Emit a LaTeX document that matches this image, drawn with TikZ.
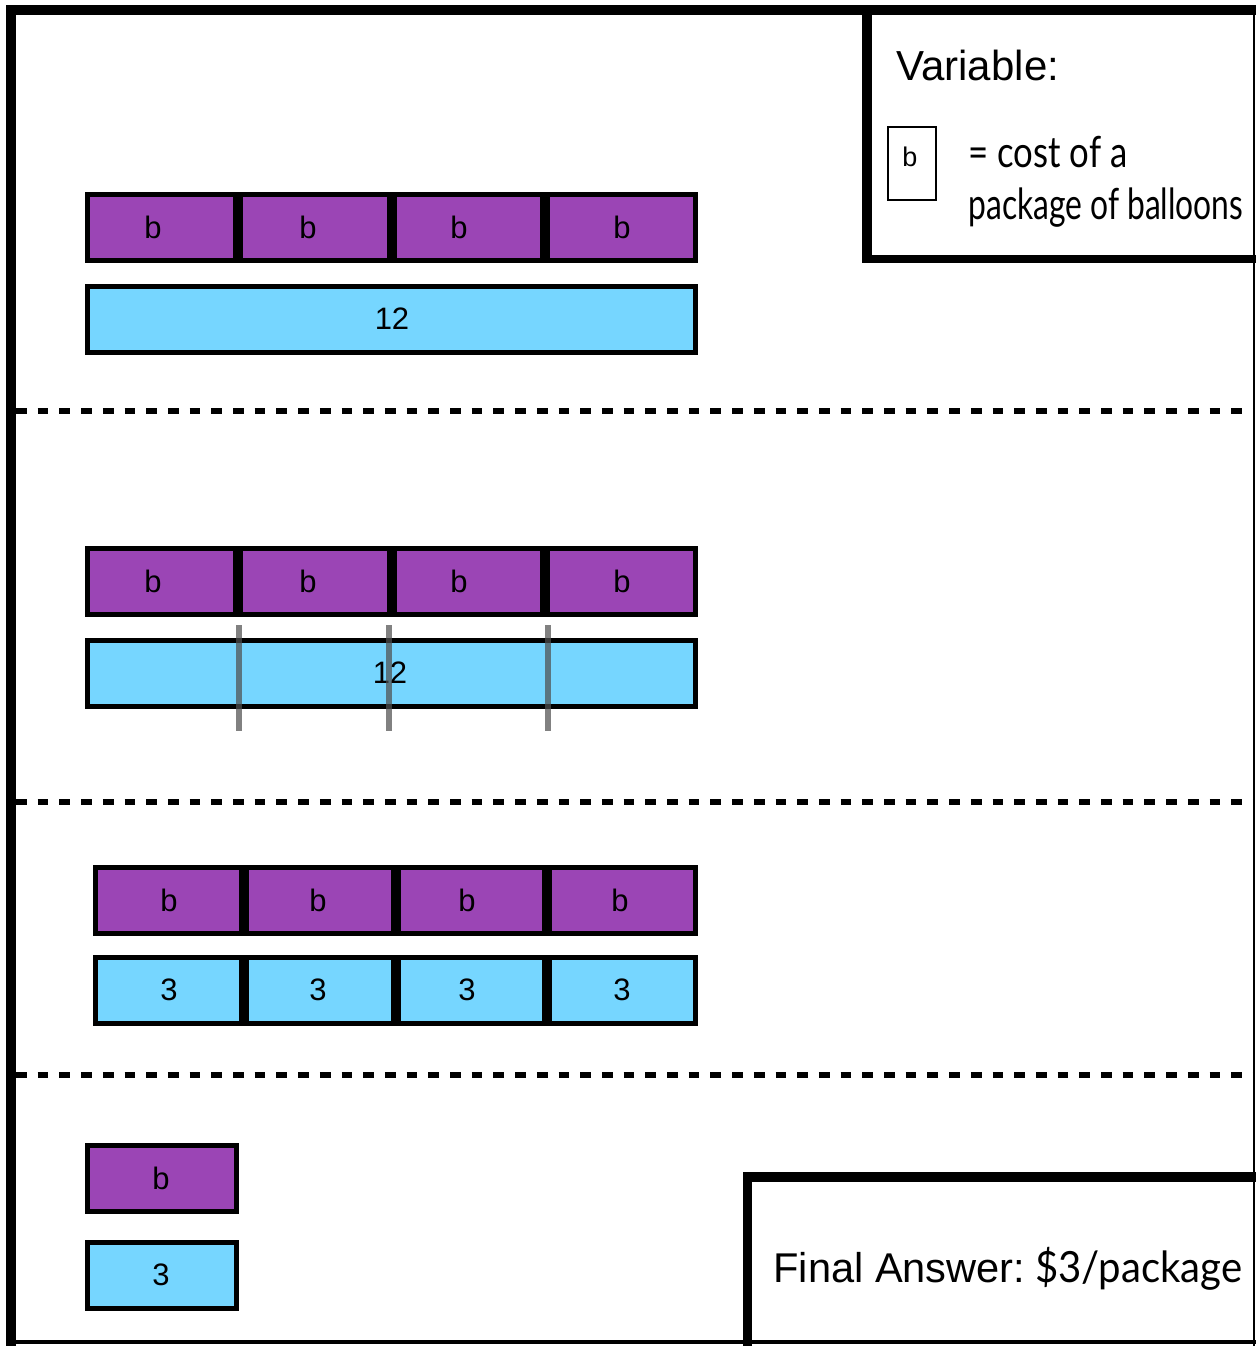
\documentclass[tikz,border=0pt]{standalone}
\usepackage{fontspec}
\usepackage{graphicx}
\setmainfont{Liberation Sans}
\newfontfamily\hand{Lato}
\definecolor{barpurple}{RGB}{155,69,181}
\definecolor{barblue}{RGB}{118,214,255}
\definecolor{tickgray}{RGB}{80,80,80}
\begin{document}
\begin{tikzpicture}[x=0.5pt, y=-0.5pt,
  bar/.style={draw=black, line width=2.5pt, minimum width=#1, minimum height=33pt,
              inner sep=0pt, outer sep=0pt},
  pbar/.style={bar=#1, fill=barpurple},
  bbar/.style={bar=#1, fill=barblue},
  num/.style={font=\fontsize{15.5pt}{18pt}\selectfont, inner sep=0pt},
  frame/.style={line width=5pt},
  divider/.style={line width=2.6pt, dash pattern=on 5.35pt off 5.5pt},
  cut/.style={draw=tickgray, opacity=0.72, line width=2.8pt},
  handtext/.style={anchor=base west, inner sep=0pt, font=\fontsize{21.5pt}{24pt}\hand},
]
\useasboundingbox (0,0) rectangle (1256,1346);

% outer frame
\draw[frame] (11,1346) -- (11,10) -- (1256,10);
\draw[line width=2pt] (6,1342) -- (1256,1342);
\draw[line width=1pt] (1253.5,5) -- (1253.5,1346);

% variable box
\draw[line width=5pt] (867,5) -- (867,259);
\draw[line width=4pt] (862,259) -- (1256,259);
\node[anchor=base west, inner sep=0pt, font=\fontsize{21pt}{25pt}\selectfont] (vartitle) at (896,80) {Variable:};
\node[draw, line width=0.9pt, minimum width=24pt, minimum height=36.5pt, inner sep=0pt] (keybox) at (912,163.5) {};
\node[inner sep=0pt, font=\fontsize{13.5pt}{16pt}\selectfont] (keyb) at (910,157) {b};
\node[handtext] (def1) at (968,167) {\resizebox{79.5pt}{\height}{= cost of a}};
\node[handtext] (def2) at (968,219) {\resizebox{137.5pt}{\height}{package of balloons}};

% section dividers
\draw[divider] (16,411) -- (1253,411);
\draw[divider] (16,802) -- (1253,802);
\draw[divider] (16,1075) -- (1253,1075);

% section 1: four b's make 12
\foreach \i/\x/\lx in {1/161.6/153, 2/314.9/308, 3/468.1/459, 4/621.4/622} {
  \node[pbar=74.1pt] (a\i) at (\x,227.5) {};
  \node[num] (al\i) at (\lx,227.5) {b};
}
\node[bbar=304pt] (atotal) at (391.5,319) {};
\node[num] (atotall) at (392,319) {12};

% section 2: the 12 bar cut into four
\foreach \i/\x/\lx in {1/161.6/153, 2/314.9/308, 3/468.1/459, 4/621.4/622} {
  \node[pbar=74.1pt] (b\i) at (\x,581.5) {};
  \node[num] (bl\i) at (\lx,581.5) {b};
}
\node[bbar=304pt] (btotal) at (391.5,673) {};
\node[num] (btotall) at (390,673) {12};
\foreach \x in {239,389,548}
  \draw[cut] (\x,625) -- (\x,731);

% section 3: each b is 3
\foreach \i/\x/\lx/\mx in {1/168.6/169/169, 2/319.9/318/318, 3/471.1/467/467, 4/622.4/620/622} {
  \node[pbar=73.1pt] (c\i) at (\x,900) {};
  \node[num] (cl\i) at (\lx,900) {b};
  \node[bbar=73.1pt] (d\i) at (\x,990) {};
  \node[num] (dl\i) at (\mx,990) {3};
}

% section 4: one b is 3
\node[pbar=74.5pt] (e1) at (162,1178) {};
\node[num] (el1) at (161,1178) {b};
\node[bbar=74.5pt] (f1) at (162,1275) {};
\node[num] (fl1) at (161,1275) {3};

% answer box
\draw[line width=4.5pt] (747.5,1346) -- (747.5,1177);
\draw[line width=5pt] (743,1177) -- (1256,1177);
\node[anchor=base west, inner sep=0pt, font=\fontsize{20.8pt}{24pt}\selectfont] (anslabel) at (773,1282) {Final Answer:};
\node[handtext] (ansvalue) at (1035,1282) {\resizebox{103.5pt}{\height}{\$3/package}};
\end{tikzpicture}
\end{document}
